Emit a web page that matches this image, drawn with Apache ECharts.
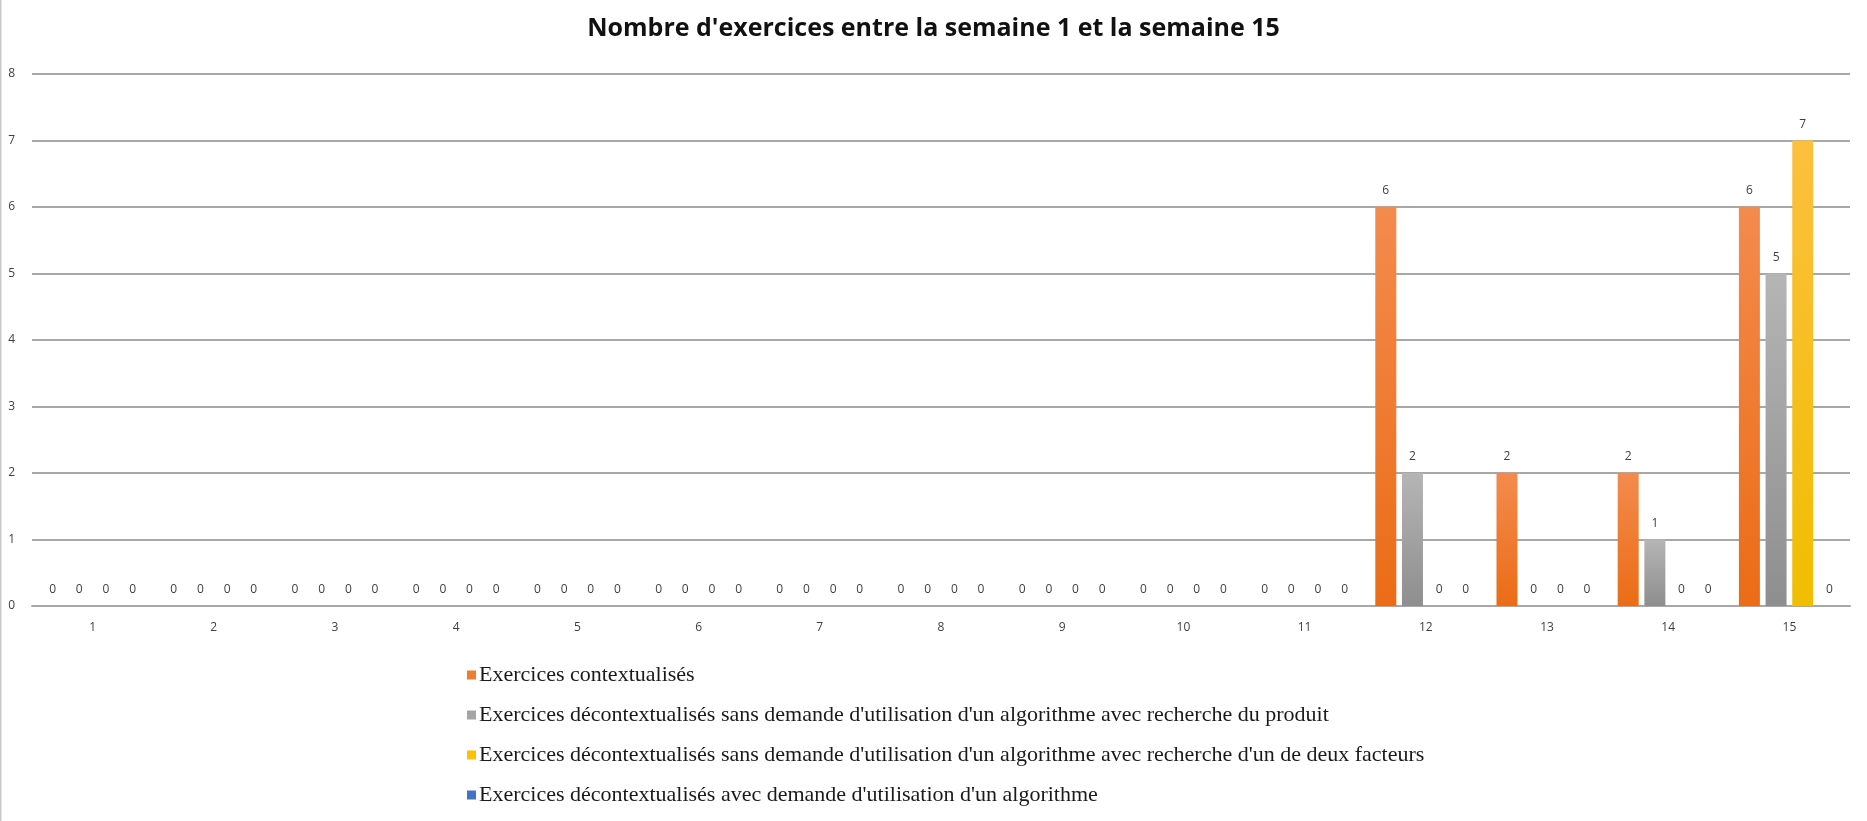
<!DOCTYPE html>
<html>
<head>
<meta charset="utf-8">
<title>Nombre d'exercices entre la semaine 1 et la semaine 15</title>
<script src="https://cdn.jsdelivr.net/npm/echarts@6/dist/echarts.min.js"></script>
<style>
  html, body { margin: 0; padding: 0; background: #ffffff; }
  #chart { width: 1867px; height: 821px; }
</style>
</head>
<body>
<div id="chart"></div>
<script>
// Weeks 1 to 15
const weeks = ['1', '2', '3', '4', '5', '6', '7', '8', '9', '10', '11', '12', '13', '14', '15'];

// Number of exercises per week, one array per exercise type
const contextualises    = [0, 0, 0, 0, 0, 0, 0, 0, 0, 0, 0, 6, 2, 2, 6];
const produitSansAlgo   = [0, 0, 0, 0, 0, 0, 0, 0, 0, 0, 0, 2, 0, 1, 5];
const facteurSansAlgo   = [0, 0, 0, 0, 0, 0, 0, 0, 0, 0, 0, 0, 0, 0, 7];
const avecAlgo          = [0, 0, 0, 0, 0, 0, 0, 0, 0, 0, 0, 0, 0, 0, 0];

const seriesNames = [
  'Exercices contextualisés',
  "Exercices décontextualisés sans demande d'utilisation d'un algorithme avec recherche du produit",
  "Exercices décontextualisés sans demande d'utilisation d'un algorithme avec recherche d'un de deux facteurs",
  "Exercices décontextualisés avec demande d'utilisation d'un algorithme"
];

const yTicks = { min: 0, max: 8, interval: 1 };

function grad(top, bottom) {
  return new echarts.graphic.LinearGradient(0, 0, 0, 1, [
    { offset: 0, color: top },
    { offset: 1, color: bottom }
  ]);
}

const palette = [
  { top: '#F38B4D', bottom: '#EB6C16', flat: '#ED7D31' },
  { top: '#B5B5B5', bottom: '#8E8E8E', flat: '#A5A5A5' },
  { top: '#FCC03E', bottom: '#F0BE00', flat: '#FFC000' },
  { top: '#5B85D0', bottom: '#3A66B8', flat: '#4472C4' }
];

const labelStyle = {
  show: true,
  position: 'top',
  distance: 10,
  fontFamily: 'Open Sans',
  fontSize: 12,
  color: '#404040'
};

function makeSeries(name, data, idx) {
  return {
    name: name,
    type: 'bar',
    data: data,
    barWidth: 21,
    barGap: '27%',
    itemStyle: { color: grad(palette[idx].top, palette[idx].bottom) },
    label: labelStyle,
    emphasis: { disabled: true }
  };
}

const chart = echarts.init(document.getElementById('chart'), null, { renderer: 'canvas' });

chart.setOption({
  animation: false,
  backgroundColor: '#ffffff',
  color: palette.map(p => p.flat),
  title: {
    text: "Nombre d'exercices entre la semaine 1 et la semaine 15",
    left: 'center',
    top: 11,
    textStyle: {
      fontFamily: 'Open Sans',
      fontWeight: 'bold',
      fontSize: 25,
      color: '#111111'
    }
  },
  grid: {
    left: 32,
    right: 17,
    top: 74,
    bottom: 215,
    containLabel: false
  },
  legend: {
    orient: 'vertical',
    left: 462,
    top: 659,
    itemWidth: 9,
    itemHeight: 9,
    itemGap: 18,
    icon: 'rect',
    textStyle: {
      fontFamily: 'Liberation Serif',
      fontSize: 22,
      lineHeight: 22,
      color: '#1a1a1a',
      padding: [0, 0, 0, -2]
    },
    data: seriesNames.map((n, i) => ({ name: n, itemStyle: { color: palette[i].flat } }))
  },
  xAxis: {
    type: 'category',
    data: weeks,
    axisLine: { show: true, lineStyle: { color: '#A8A8A8', width: 2 } },
    axisTick: { show: false },
    axisLabel: {
      fontFamily: 'Open Sans',
      fontSize: 12,
      color: '#404040',
      margin: 16
    }
  },
  yAxis: {
    type: 'value',
    min: yTicks.min,
    max: yTicks.max,
    interval: yTicks.interval,
    axisLine: { show: false },
    axisTick: { show: false },
    axisLabel: {
      fontFamily: 'Open Sans',
      fontSize: 12,
      color: '#404040',
      margin: 17
    },
    splitLine: { show: true, lineStyle: { color: '#A8A8A8', width: 2 } }
  },
  graphic: [
    {
      type: 'line',
      shape: { x1: 0.5, y1: 0, x2: 0.5, y2: 821 },
      style: { stroke: '#C8C8C8', lineWidth: 2 },
      silent: true
    }
  ],
  series: [
    makeSeries(seriesNames[0], contextualises, 0),
    makeSeries(seriesNames[1], produitSansAlgo, 1),
    makeSeries(seriesNames[2], facteurSansAlgo, 2),
    makeSeries(seriesNames[3], avecAlgo, 3)
  ]
});
</script>
</body>
</html>
